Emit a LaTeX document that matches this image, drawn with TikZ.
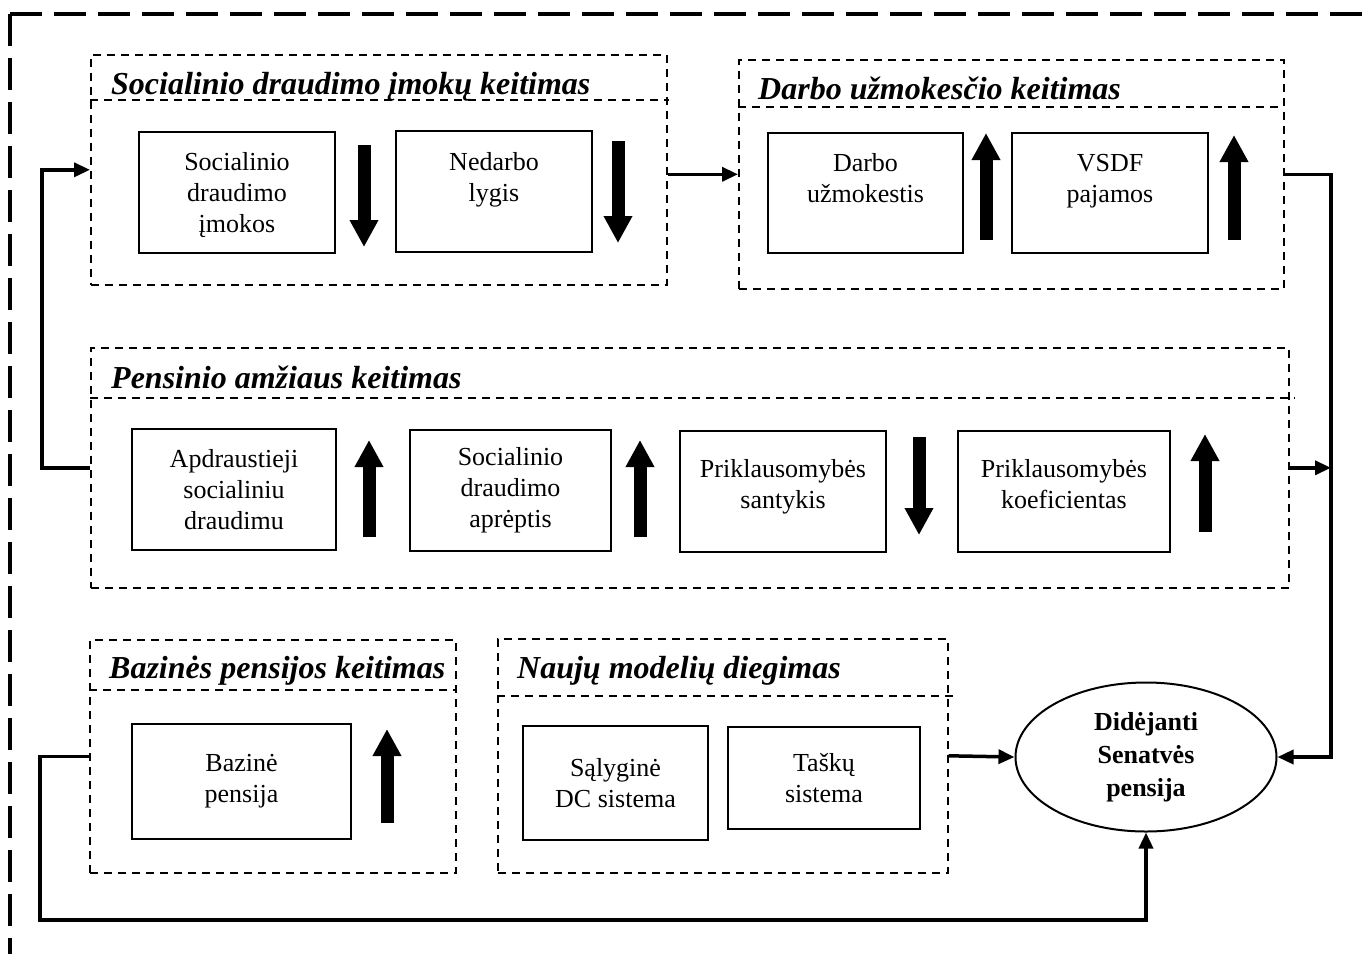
\documentclass[tikz,border=0pt]{standalone}
\usepackage{fontspec}
\setmainfont{Liberation Serif}
\usetikzlibrary{arrows.meta,positioning,shapes.geometric,calc}

\begin{document}
\begin{tikzpicture}[x=1pt,y=-1pt,
  outerframe/.style={line width=4pt,dash pattern=on 32pt off 12pt},
  grp/.style={draw,line width=1.6pt,dash pattern=on 8pt off 6pt,anchor=north west,inner sep=0pt},
  divider/.style={line width=1.6pt,dash pattern=on 8pt off 6pt},
  grptitle/.style={anchor=base west,inner sep=0pt,font=\fontsize{32}{36}\selectfont\bfseries\itshape},
  box/.style={draw,line width=2pt,anchor=north west,align=center,inner sep=0pt,
    font=\fontsize{26}{31}\selectfont},
  raised/.style={text depth=#1},
  goal/.style={draw,ellipse,line width=2pt,align=center,inner sep=0pt,
    minimum width=261pt,minimum height=149pt,font=\fontsize{26}{33}\selectfont\bfseries},
  trend/.style={line width=13pt,-{Triangle[length=27pt,width=27pt]}},
  arrow/.style={line width=3.5pt,-{Triangle[length=16pt,width=14pt]}}
]
\useasboundingbox (0,0) rectangle (1369,954);
\draw[outerframe] (10,14) -- (10,954);
\draw[outerframe] (10,14) -- (1369,14);

\node[grp,minimum width=576pt,minimum height=230pt] (g1) at (90,54) {};
\node[grp,minimum width=545pt,minimum height=229pt] (g2) at (738,59) {};
\node[grp,minimum width=1198pt,minimum height=240pt] (g3) at (90,347) {};
\node[grp,minimum width=366pt,minimum height=233pt] (g4) at (89,639) {};
\node[grp,minimum width=450pt,minimum height=234pt] (g5) at (497,638) {};
\draw[divider] (90,100) -- (669,100);
\draw[divider] (738,107) -- (1283,107);
\draw[divider] (90,398) -- (1295,398);
\draw[divider] (89,690) -- (455,690);
\draw[divider] (497,696) -- (955,696);

\node[grptitle] (t1) at (111,94) {Socialinio draudimo įmokų keitimas};
\node[grptitle] (t2) at (758,99) {Darbo užmokesčio keitimas};
\node[grptitle] (t3) at (111,388) {Pensinio amžiaus keitimas};
\node[grptitle] (t4) at (109,678) {Bazinės pensijos keitimas};
\node[grptitle] (t5) at (517,678) {Naujų modelių diegimas};

\node[box,raised=0pt,minimum width=196pt,minimum height=121pt] (b11) at (138,131) {Socialinio\\draudimo\\įmokos};
\node[box,raised=30pt,minimum width=196pt,minimum height=121pt] (b12) at (395,130) {Nedarbo\\lygis};
\node[box,raised=30pt,minimum width=195pt,minimum height=120pt] (b21) at (767,132) {Darbo\\užmokestis};
\node[box,raised=30pt,minimum width=196pt,minimum height=120pt] (b22) at (1011,132) {VSDF\\pajamos};
\node[box,minimum width=204pt,minimum height=121pt] (b31) at (131,428) {Apdraustieji\\socialiniu\\draudimu};
\node[box,minimum width=201pt,minimum height=121pt] (b32) at (409,429) {Socialinio\\draudimo\\aprėptis};
\node[box,raised=16pt,minimum width=206pt,minimum height=121pt] (b33) at (679,430) {Priklausomybės\\santykis};
\node[box,raised=16pt,minimum width=212pt,minimum height=121pt] (b34) at (957,430) {Priklausomybės\\koeficientas};
\node[box,minimum width=219pt,minimum height=115pt] (b41) at (131,723) {Bazinė\\pensija};
\node[box,minimum width=185pt,minimum height=114pt] (b51) at (522,725) {Sąlyginė\\DC sistema};
\node[box,minimum width=192pt,minimum height=102pt] (b52) at (727,726) {Taškų\\sistema};
\node[goal] (goal) at (1146,757) {Didėjanti\\Senatvės\\pensija};

\draw[trend] (364,145) -- (364,247);
\draw[trend] (618,141) -- (618,243);
\draw[trend] (986,240) -- (986,133);
\draw[trend] (1234,240) -- (1234,135);
\draw[trend] (369,537) -- (369,440);
\draw[trend] (640,537) -- (640,440);
\draw[trend] (919,437) -- (919,535);
\draw[trend] (1205,532) -- (1205,434);
\draw[trend] (387,823) -- (387,729);

\coordinate (rx) at (1331,0);
\coordinate (lx) at (42,0);
\coordinate (bx) at (40,920);
\draw[arrow] (g1.east |- g2.west) -- (g2.west);
\draw[arrow] (g2.east) -- (g2.east -| rx) -- (rx |- goal.east) -- (goal.east);
\draw[arrow] (g3.east) -- (g3.east -| rx);
\draw[arrow] (g3.west) -- (g3.west -| lx) -- (lx |- g1.west) -- (g1.west);
\draw[arrow] (g4.west) -- (g4.west -| bx) -- (bx) -- (bx -| goal.south) -- (goal.south);
\draw[arrow] (g5.east) -- (goal.west);
\end{tikzpicture}
\end{document}
